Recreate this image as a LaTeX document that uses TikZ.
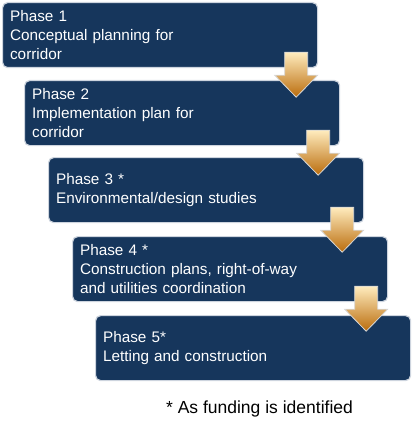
\documentclass[tikz,border=0pt]{standalone}
\usepackage{fontspec}
\setmainfont{Liberation Sans}
\usetikzlibrary{calc}
\definecolor{navy}{RGB}{22,54,92}
\definecolor{boxedge}{RGB}{205,212,222}
\definecolor{arrtop}{RGB}{255,236,190}
\definecolor{arrmid}{RGB}{247,168,45}
\definecolor{arrbot}{RGB}{186,108,12}
\definecolor{arredge}{RGB}{215,215,215}
\tikzset{
  phasebox/.style={draw=boxedge, line width=1.2pt, fill=navy, rounded corners=5pt,
    anchor=north west, minimum width=315pt, minimum height=65pt,
    text width=300pt, inner xsep=7pt, inner ysep=0pt, align=left, text=white,
    font=\fontsize{15.3}{19}\selectfont},
  downarrow/.style={draw=arredge, line width=0.8pt, top color=arrtop, middle color=arrmid, bottom color=arrbot},
  footnote/.style={font=\fontsize{17.5}{21}\selectfont, text=black, anchor=base}
}
\begin{document}
\begin{tikzpicture}[x=1pt,y=-1pt]
\useasboundingbox (0,0) rectangle (412,425);
\node[phasebox] (b1) at (2,2) {Phase 1\\Conceptual planning for\\corridor};
\node[phasebox] (b2) at (24,80) {Phase 2\\Implementation plan for\\corridor};
\node[phasebox] (b3) at (48,157) {Phase 3 *\\Environmental/design studies};
\node[phasebox] (b4) at (72,236) {Phase 4 *\\Construction plans, right-of-way\\and utilities coordination};
\node[phasebox] (b5) at (95,315) {Phase 5*\\Letting and construction};
\foreach \k in {1,2,3,4}{
  \coordinate (a\k) at ($(b\k.south east)+(-22,-16)$);
  \path[downarrow] ($(a\k)+(-11.5,0)$) -- ++(23,0) -- ++(0,23) -- ++(10,0)
     -- ++(-21.5,22) -- ++(-21.5,-22) -- ++(10,0) -- cycle;
}
\node[footnote] (fn) at (259.5,413) {* As funding is identified};
\end{tikzpicture}
\end{document}
